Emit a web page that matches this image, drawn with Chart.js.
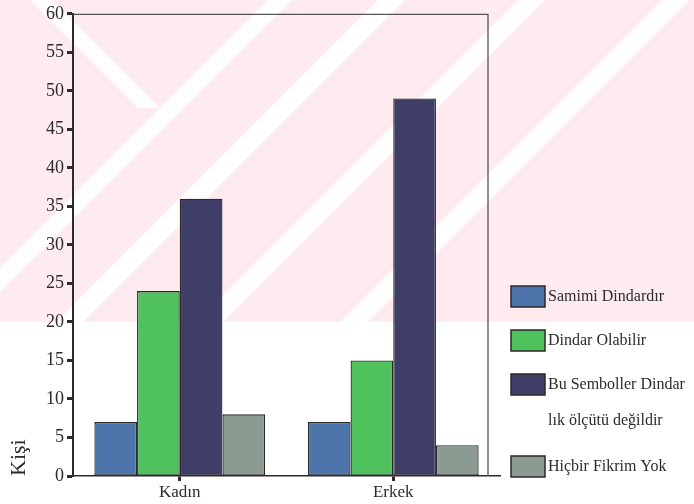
<!DOCTYPE html>
<html lang="tr">
<head>
<meta charset="UTF-8">
<title>Kişi</title>
<script src="https://cdn.jsdelivr.net/npm/chart.js@4.4.0/dist/chart.umd.min.js"></script>
<style>
  html, body { margin: 0; padding: 0; background: #fff; }
  #wrap { width: 694px; height: 504px; }
  #probe { position: absolute; left: -999px; font-family: 'Liberation Serif'; }
</style>
</head>
<body>
<span id="probe">Kişi ölçütü</span>
<div id="wrap"><canvas id="chart"></canvas></div>
<script>
// data
var categories = ['Kadın', 'Erkek'];
var seriesLabels = ['Samimi Dindardır', 'Dindar Olabilir', ['Bu Semboller Dindar', 'lık ölçütü değildir'], 'Hiçbir Fikrim Yok'];
var samimi = [7, 7];
var olabilir = [24, 15];
var olcutDegil = [36, 49];
var fikirYok = [8, 4];
var seriesColors = ['#4d74ab', '#4fc15d', '#3f3e68', '#8b9b92'];
var yMin = 0, yMax = 60, yStep = 5;

var serif = "'Liberation Serif', 'DejaVu Serif', serif";
var ink = '#2b2b2b';

// faint pink scan watermark behind the chart
var watermark = {
    id: 'watermark',
    beforeDraw: function(chart) {
        var ctx = chart.ctx;
        var h = 322;
        ctx.save();
        ctx.fillStyle = '#fdebef';
        ctx.fillRect(0, 0, chart.width, h);
        ctx.beginPath();
        ctx.rect(0, 0, chart.width, h);
        ctx.clip();
        ctx.fillStyle = '#ffffff';
        // "/" bands: x + y between a and b
        [[268, 292], [378, 405], [518, 545], [662, 690]].forEach(function(b) {
            ctx.beginPath();
            ctx.moveTo(b[0], 0);
            ctx.lineTo(b[1], 0);
            ctx.lineTo(b[1] - h, h);
            ctx.lineTo(b[0] - h, h);
            ctx.closePath();
            ctx.fill();
        });
        // "\" band segment top left
        ctx.beginPath();
        ctx.moveTo(30, 0);
        ctx.lineTo(52, 0);
        ctx.lineTo(160, 108);
        ctx.lineTo(138, 108);
        ctx.closePath();
        ctx.fill();
        ctx.restore();
    }
};

// plot frame (top and right edge) and the legend on the right
var frameAndLegend = {
    id: 'frameAndLegend',
    afterDatasetsDraw: function(chart) {
        var ctx = chart.ctx;
        var a = chart.chartArea;
        var fr = a.right - 12;
        ctx.save();
        ctx.strokeStyle = '#555555';
        ctx.lineWidth = 1.3;
        ctx.beginPath();
        ctx.moveTo(a.left, a.top + 0.5);
        ctx.lineTo(fr, a.top + 0.5);
        ctx.lineTo(fr, a.bottom);
        ctx.stroke();

        var boxX = a.right + 11;
        var y = 296;
        ctx.font = '16px ' + serif;
        ctx.textBaseline = 'middle';
        ctx.textAlign = 'left';
        chart.data.datasets.forEach(function(ds, i) {
            ctx.fillStyle = ds.backgroundColor;
            ctx.fillRect(boxX, y - 10, 34, 21);
            ctx.strokeStyle = '#2a2a2a';
            ctx.lineWidth = 1.5;
            ctx.strokeRect(boxX, y - 10, 34, 21);
            var lines = [].concat(seriesLabels[i]);
            ctx.fillStyle = ink;
            lines.forEach(function(t, k) {
                if (k > 0) y += 36;
                ctx.fillText(t, boxX + 37, y + 1);
            });
            y += lines.length > 1 ? 46 : 44;
        });
        ctx.restore();
    }
};

function makeSet(i, values) {
    return {
        label: [].concat(seriesLabels[i]).join(' '),
        data: values,
        backgroundColor: seriesColors[i],
        borderColor: '#2a2a2a',
        borderWidth: 1.3,
        borderSkipped: false,
        categoryPercentage: 0.8,
        barPercentage: 1.0
    };
}

function draw() {
    new Chart(document.getElementById('chart'), {
        type: 'bar',
        data: {
            labels: categories,
            datasets: [
                makeSet(0, samimi),
                makeSet(1, olabilir),
                makeSet(2, olcutDegil),
                makeSet(3, fikirYok)
            ]
        },
        options: {
            responsive: true,
            maintainAspectRatio: false,
            animation: false,
            layout: { padding: { left: 0, right: 194, top: 13, bottom: 0 } },
            plugins: {
                legend: { display: false },
                tooltip: { enabled: false }
            },
            scales: {
                x: {
                    grid: { offset: false, drawOnChartArea: false, drawTicks: true, tickLength: 5, tickWidth: 3, tickColor: ink },
                    border: { color: ink, width: 1.5 },
                    ticks: { color: ink, font: { family: serif, size: 17 }, padding: 1 },
                    afterFit: function(s) { s.height = 28; }
                },
                y: {
                    min: yMin,
                    max: yMax,
                    grid: { drawOnChartArea: false, drawTicks: true, tickLength: 6, tickWidth: 3, tickColor: ink },
                    border: { color: ink, width: 2 },
                    ticks: { stepSize: yStep, color: ink, font: { family: serif, size: 18 }, padding: 3 },
                    title: {
                        display: true,
                        text: 'Kişi',
                        align: 'start',
                        color: ink,
                        font: { family: serif, size: 22 },
                        padding: { top: 6, bottom: 0 }
                    },
                    afterFit: function(s) { s.width = 73; }
                }
            }
        },
        plugins: [watermark, frameAndLegend]
    });
}

if (document.fonts && document.fonts.load) {
    Promise.all([
        document.fonts.load("16px 'Liberation Serif'"),
        document.fonts.load("16px 'DejaVu Serif'")
    ]).then(draw, draw);
} else {
    draw();
}
</script>
</body>
</html>
